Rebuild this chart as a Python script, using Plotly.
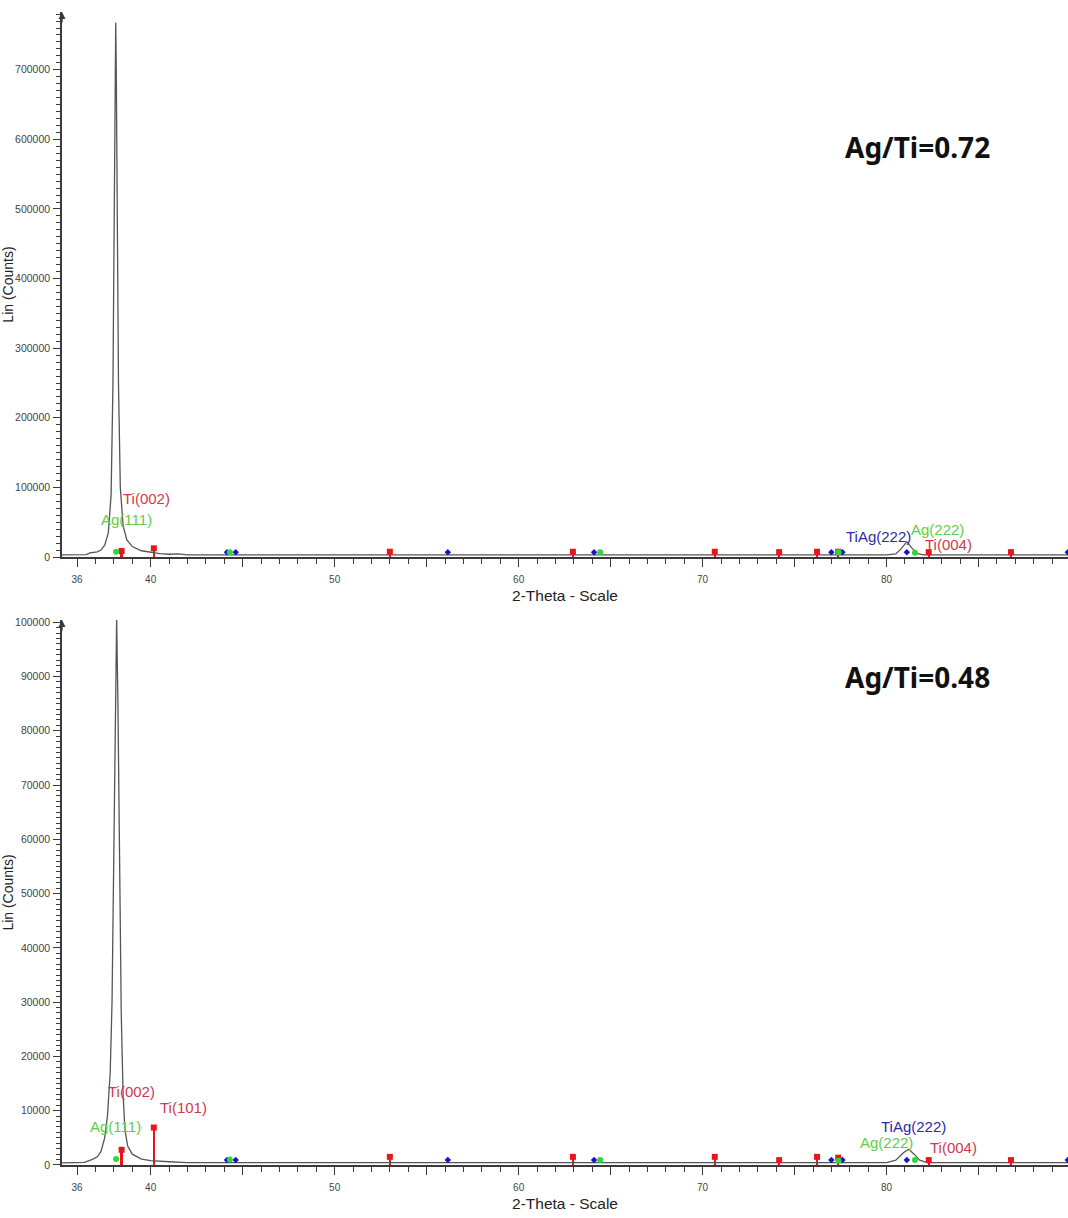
import plotly.graph_objects as go

# ---------------- data ----------------
# measured patterns (2-theta, counts)
top_x = [35.18, 36.0, 36.5, 36.7, 36.9, 37.1, 37.3, 37.5, 37.7, 37.85, 37.95, 38.02, 38.07, 38.1,
         38.13, 38.18, 38.25, 38.35, 38.5, 38.7, 39.0, 39.5, 40.0, 40.5, 41.0, 41.5, 42.0,
         50.0, 60.0, 70.0, 80.0, 80.5, 80.8, 81.1, 81.4, 81.7, 82.0, 86.0, 89.86]
top_y = [3000, 3000, 3500, 6000, 7000, 7500, 10000, 17000, 35000, 90000, 250000, 500000, 700000, 768000,
         700000, 500000, 250000, 100000, 45000, 25000, 15000, 9000, 6500, 5000, 4000, 4500, 3000,
         3000, 3000, 3000, 3200, 4500, 12000, 22000, 12000, 5000, 3000, 3000, 3000]

bot_x = [35.18, 36.0, 36.4, 36.8, 37.1, 37.3, 37.5, 37.65, 37.8, 37.9, 38.0, 38.08, 38.15, 38.22,
         38.3, 38.4, 38.5, 38.6, 38.75, 39.0, 39.5, 40.0, 41.0, 42.0, 50.0, 60.0, 70.0,
         80.0, 80.5, 80.9, 81.2, 81.5, 81.8, 82.2, 86.0, 89.86]
bot_y = [400, 400, 500, 1000, 1500, 2500, 5000, 9000, 17000, 30000, 55000, 85000, 100600, 85000,
         57000, 28000, 13000, 6500, 3500, 2000, 1100, 800, 600, 450, 450, 450, 450,
         450, 900, 2200, 2900, 2000, 900, 450, 450, 450]

# reference phase positions (2-theta) and drawn heights
ti_pos = [38.42, 40.17, 53.0, 62.95, 70.66, 74.16, 76.22, 77.37, 82.29, 86.76]
ti_top = [8600, 12500, 7600, 7600, 7600, 7000, 7600, 7600, 7000, 7000]
ti_bot = [2800, 6900, 1500, 1500, 1500, 900, 1500, 1350, 900, 900]

ag_pos = [38.12, 44.3, 64.43, 77.39, 81.54]
ag_top = [7600, 7000, 7000, 7000, 6000]
ag_bot = [1100, 1000, 900, 800, 900]

tiag_pos = [44.15, 44.62, 56.15, 64.1, 77.0, 77.6, 81.1, 89.85]
tiag_top = [7000, 7000, 6700, 6700, 6700, 6700, 6700, 6700]
tiag_bot = [900, 900, 900, 900, 900, 900, 900, 900]

# peak labels: text, x, y (top chart / bottom chart)
top_labels = [("Ti(002)", 39.75, 84000, "ti"), ("Ag(111)", 38.7, 54000, "ag"),
              ("TiAg(222)", 79.55, 30000, "tiag"), ("Ag(222)", 82.75, 39000, "ag"),
              ("Ti(004)", 83.35, 17500, "ti")]
bot_labels = [("Ti(002)", 38.95, 13600, "ti"), ("Ti(101)", 41.8, 10500, "ti"),
              ("Ag(111)", 38.1, 7000, "ag"), ("TiAg(222)", 81.45, 7000, "tiag"),
              ("Ag(222)", 80.0, 4200, "ag"), ("Ti(004)", 83.65, 3300, "ti")]

x_tickvals = [36, 40, 45, 50, 55, 60, 65, 70, 75, 80, 85, 90]
x_ticktext = ["36", "40", "", "50", "", "60", "", "70", "", "80", "", "90"]

ratio_top = "Ag/Ti=0.72"
ratio_bot = "Ag/Ti=0.48"

# ---------------- styling ----------------
TEXT_COL = {"ti": "#cf3a4e", "ag": "#62cc4a", "tiag": "#2c2ca6"}
RED, GREEN, BLUE = "#e8161c", "#2fd83a", "#1414c8"
AX_COL = "#3a3a3a"
LINE_COL = "#555555"
LABEL_FONT = "Liberation Sans, Arial"

fig = go.Figure()

def add_panel(xa, ya, px, py, tih, agh, tiagh):
    fig.add_trace(go.Scatter(x=px, y=py, mode="lines", line=dict(color=LINE_COL, width=1.3),
                             xaxis=xa, yaxis=ya, showlegend=False, hoverinfo="skip"))
    fig.add_trace(go.Bar(x=ti_pos, y=tih, width=0.13, marker=dict(color=RED, line=dict(width=0)),
                         xaxis=xa, yaxis=ya, showlegend=False, hoverinfo="skip"))
    fig.add_trace(go.Scatter(x=ti_pos, y=tih, mode="markers",
                             marker=dict(symbol="square", size=6, color=RED),
                             xaxis=xa, yaxis=ya, showlegend=False, cliponaxis=False))
    fig.add_trace(go.Scatter(x=tiag_pos, y=tiagh, mode="markers",
                             marker=dict(symbol="diamond", size=5, color=BLUE),
                             xaxis=xa, yaxis=ya, showlegend=False, cliponaxis=False))
    fig.add_trace(go.Scatter(x=ag_pos, y=agh, mode="markers",
                             marker=dict(symbol="circle", size=6, color=GREEN),
                             xaxis=xa, yaxis=ya, showlegend=False, cliponaxis=False))

add_panel("x", "y", top_x, top_y, ti_top, ag_top, tiag_top)
add_panel("x2", "y2", bot_x, bot_y, ti_bot, ag_bot, tiag_bot)

annos = []
for txt, lx, ly, k in top_labels:
    annos.append(dict(x=lx, y=ly, xref="x", yref="y", text=txt, showarrow=False,
                      xanchor="center", yanchor="middle",
                      font=dict(family=LABEL_FONT, size=15, color=TEXT_COL[k])))
for txt, lx, ly, k in bot_labels:
    annos.append(dict(x=lx, y=ly, xref="x2", yref="y2", text=txt, showarrow=False,
                      xanchor="center", yanchor="middle",
                      font=dict(family=LABEL_FONT, size=15, color=TEXT_COL[k])))
annos.append(dict(x=0.85, y=0.752, xref="x domain", yref="y domain", text="<b>" + ratio_top + "</b>",
                  xanchor="center", yanchor="middle",
                  showarrow=False, font=dict(family="Noto Sans, Open Sans", size=28, color="#111")))
annos.append(dict(x=0.85, y=0.895, xref="x2 domain", yref="y2 domain", text="<b>" + ratio_bot + "</b>",
                  xanchor="center", yanchor="middle",
                  showarrow=False, font=dict(family="Noto Sans, Open Sans", size=28, color="#111")))
# arrow heads on the y axes
for xr, yr in (("x domain", "y domain"), ("x2 domain", "y2 domain")):
    annos.append(dict(x=0, y=1, xref=xr, yref=yr, ax=0, ay=12, axref="pixel", ayref="pixel",
                      text="", showarrow=True, arrowhead=2, arrowsize=1, arrowwidth=1.4,
                      arrowcolor=AX_COL, standoff=0))

ytickfont = dict(family=LABEL_FONT, size=10.5, color="#444")
xtickfont = dict(family=LABEL_FONT, size=10, color="#444")
titlefont = dict(family=LABEL_FONT, size=15.5, color="#222")

def xaxis_cfg(anchor):
    return dict(anchor=anchor, domain=[0, 1], range=[35.18, 89.86], showgrid=False, zeroline=False,
                showline=True, linecolor=AX_COL, linewidth=1.6, automargin=False,
                tickmode="array", tickvals=x_tickvals, ticktext=x_ticktext,
                ticks="outside", ticklen=8, tickwidth=1, tickcolor=AX_COL,
                minor=dict(tickmode="linear", tick0=0, dtick=1, ticks="outside", ticklen=5,
                           tickwidth=1, tickcolor=AX_COL, showgrid=False),
                tickfont=xtickfont, ticklabelstandoff=4,
                title=dict(text="2-Theta - Scale", font=titlefont, standoff=6))

def yaxis_cfg(anchor, dom, rng, dt, mdt):
    return dict(anchor=anchor, domain=dom, range=rng, showgrid=False, zeroline=False,
                showline=True, linecolor=AX_COL, linewidth=1.6, automargin=False,
                tick0=0, dtick=dt, ticks="outside", ticklen=7, tickwidth=1, tickcolor=AX_COL,
                minor=dict(tick0=0, dtick=mdt, ticks="outside", ticklen=4, tickwidth=1,
                           tickcolor=AX_COL, showgrid=False),
                tickfont=ytickfont, tickformat="d", ticklabelstandoff=1,
                title=dict(text="Lin (Counts)", font=dict(family=LABEL_FONT, size=14,
                                                          color="#222"), standoff=2))

fig.update_layout(
    width=1068, height=1218,
    margin=dict(l=62, r=0, t=12, b=53, autoexpand=False),
    paper_bgcolor="white", plot_bgcolor="white",
    bargap=0, barmode="overlay",
    xaxis=xaxis_cfg("y"),
    yaxis=yaxis_cfg("x", [0.5273, 1.0], [0, 783000], 100000, 10000),
    xaxis2=xaxis_cfg("y2"),
    yaxis2=yaxis_cfg("x2", [0.0, 0.4727], [0, 100400], 10000, 1000),
    annotations=annos,
    showlegend=False,
)

fig.write_html("out.html", config={"displayModeBar": False},
               post_script="document.body.style.margin='0px';document.body.style.overflow='hidden';")
